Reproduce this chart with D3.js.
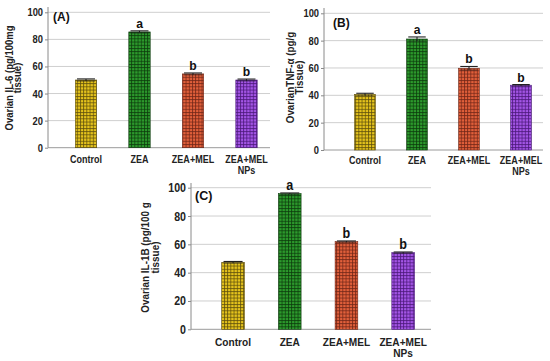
<!DOCTYPE html>
<html><head><meta charset="utf-8">
<script src="https://cdn.jsdelivr.net/npm/d3@7"></script>
<style>body{margin:0;background:#fff}svg{display:block}</style>
</head><body>
<svg id="chart" width="550" height="361"></svg>
<script>
const categories = ["Control", "ZEA", "ZEA+MEL", "ZEA+MEL NPs"];
const yTicks = [0, 20, 40, 60, 80, 100];
const il6Values = [50.0, 85.5, 54.5, 50.0];
const il6Errors = [0.8, 0.8, 0.7, 0.7];
const il6Letters = ["", "a", "b", "b"];
const tnfValues = [40.7, 81.2, 59.8, 47.4];
const tnfErrors = [0.8, 1.5, 1.3, 0.5];
const tnfLetters = ["", "a", "b", "b"];
const il1bValues = [47.3, 95.8, 61.9, 54.1];
const il1bErrors = [0.6, 0.5, 0.5, 0.5];
const il1bLetters = ["", "a", "b", "b"];
const panelLabels = ["(A)", "(B)", "(C)"];
const yTitles = [
  ["Ovarian IL-6 (pg/100mg", "tissue)"],
  ["OvarianTNF-\u03b1 (pg/g", "Tissue)"],
  ["Ovarian IL-1B (pg/100 g", "tissue)"]
];

const baseColors = ["#e6c41c", "#2c9a2c", "#e2603a", "#a455e6"];
const lineColors = ["#5e4f0c", "#0c3a0c", "#6e2616", "#4a1878"];

const svg = d3.select("#chart");
const defs = svg.append("defs");
baseColors.forEach((c, i) => {
  const p = defs.append("pattern").attr("id", "pat" + i)
    .attr("patternUnits", "userSpaceOnUse").attr("width", 3.2).attr("height", 3.2);
  p.append("rect").attr("width", 3.2).attr("height", 3.2).attr("fill", c);
  p.append("rect").attr("x", 0).attr("y", 0).attr("width", 0.9).attr("height", 3.2).attr("fill", lineColors[i]).attr("opacity", 0.85);
  p.append("rect").attr("x", 0).attr("y", 0).attr("width", 3.2).attr("height", 0.9).attr("fill", lineColors[i]).attr("opacity", 0.85);
});

const FONT = "'Liberation Sans', Arial, sans-serif";

const panels = [
  {values: il6Values, errors: il6Errors, letters: il6Letters, label: panelLabels[0], title: yTitles[0],
   axisX: 48, yTop: 12.3, yBot: 147.7, gridRight: 270, range: [59.25, 273.25], axisTop: 7,
   tickSize: 11, catSize: 11, catScale: 0.82, catBase: 163, catLine: 10.5, titleX: [9, 17], titleY: 78, titleSize: 10, titleScale: 0.95,
   labelPos: [53, 21], labelSize: 12, letterSize: 13.5},
  {values: tnfValues, errors: tnfErrors, letters: tnfLetters, label: panelLabels[1], title: yTitles[1],
   axisX: 324, yTop: 13.3, yBot: 150, gridRight: 543, range: [339, 547], axisTop: 8,
   tickSize: 11, catSize: 11, catScale: 0.82, catBase: 164, catLine: 10.5, titleX: [290.5, 299], titleY: 77.5, titleSize: 10, titleScale: 0.98,
   labelPos: [333, 27], labelSize: 12, letterSize: 13.5},
  {values: il1bValues, errors: il1bErrors, letters: il1bLetters, label: panelLabels[2], title: yTitles[2],
   axisX: 191, yTop: 187.7, yBot: 329.3, gridRight: 431, range: [204.7, 431.5], axisTop: 183,
   tickSize: 12.5, catSize: 11.5, catScale: 0.88, catBase: 345.5, catLine: 11.5, titleX: [145.5, 155], titleY: 257.5, titleSize: 11, titleScale: 0.9,
   labelPos: [195, 200], labelSize: 12.5, letterSize: 14}
];

panels.forEach((P, pi) => {
  const g = svg.append("g");
  const x = d3.scaleBand().domain(categories).range(P.range).paddingInner(0.6).paddingOuter(0.3);
  const y = d3.scaleLinear().domain([0, 100]).range([P.yBot, P.yTop]);

  // gridlines
  g.append("g").selectAll("line").data(yTicks).join("line")
    .attr("x1", P.axisX).attr("x2", P.gridRight)
    .attr("y1", d => y(d)).attr("y2", d => y(d))
    .attr("stroke", d => d === 0 ? "#9a9a9a" : "#cfcfcf").attr("stroke-width", 1);

  // y axis via d3
  const yAxis = d3.axisLeft(y).tickValues(yTicks).tickSize(3).tickPadding(2);
  const ag = g.append("g").attr("transform", `translate(${P.axisX},0)`).call(yAxis);
  ag.select(".domain").remove();
  ag.selectAll(".tick line").attr("stroke", "#888");
  ag.selectAll(".tick text").attr("font-family", FONT).attr("font-weight", "bold")
    .attr("font-size", P.tickSize).attr("fill", "#222")
    .attr("transform", function() { const xx = +d3.select(this).attr("x"); return `translate(${xx},0) scale(0.85,1) translate(${-xx},0)`; });
  g.append("line").attr("x1", P.axisX).attr("x2", P.axisX).attr("y1", P.axisTop).attr("y2", P.yBot)
    .attr("stroke", "#8a8a8a").attr("stroke-width", 1);

  // bars
  g.append("g").selectAll("rect").data(P.values).join("rect")
    .attr("x", (d, i) => x(categories[i]))
    .attr("y", d => y(d))
    .attr("width", x.bandwidth())
    .attr("height", d => y(0) - y(d))
    .attr("fill", (d, i) => `url(#pat${i})`)
    .attr("stroke", (d, i) => lineColors[i]).attr("stroke-width", 0.6);

  // error bars
  const eg = g.append("g").attr("stroke", "#222").attr("stroke-width", 1.1);
  P.values.forEach((v, i) => {
    const cx = x(categories[i]) + x.bandwidth() / 2;
    const e = P.errors[i];
    const hw = x.bandwidth() * 0.42;
    eg.append("line").attr("x1", cx).attr("x2", cx).attr("y1", y(v - e)).attr("y2", y(v + e));
    eg.append("line").attr("x1", cx - hw).attr("x2", cx + hw).attr("y1", y(v + e)).attr("y2", y(v + e));
    eg.append("line").attr("x1", cx - hw).attr("x2", cx + hw).attr("y1", y(v - e)).attr("y2", y(v - e)).attr("stroke-opacity", 0.5);
    if (P.letters[i]) {
      g.append("text").attr("transform", `translate(${cx},${y(v + e) - 3}) scale(0.9,1)`)
        .attr("text-anchor", "middle").attr("font-family", FONT).attr("font-weight", "bold")
        .attr("font-size", P.letterSize).attr("fill", "#111").text(P.letters[i]);
    }
  });

  // category labels
  categories.forEach((c, i) => {
    const cx = x(c) + x.bandwidth() / 2;
    const parts = c === "ZEA+MEL NPs" ? ["ZEA+MEL", "NPs"] : [c];
    parts.forEach((t, li) => {
      g.append("text").attr("transform", `translate(${cx},${P.catBase + li * P.catLine}) scale(${P.catScale},1)`)
        .attr("text-anchor", "middle").attr("font-family", FONT).attr("font-weight", "bold")
        .attr("font-size", P.catSize).attr("fill", "#222").text(t);
    });
  });

  // y title
  P.title.forEach((t, li) => {
    g.append("text").attr("transform", `translate(${P.titleX[li] + P.titleSize * 0.36},${P.titleY}) rotate(-90) scale(${P.titleScale},1)`)
      .attr("text-anchor", "middle").attr("font-family", FONT).attr("font-weight", "bold")
      .attr("font-size", P.titleSize).attr("fill", "#222").text(t);
  });

  // panel label
  g.append("text").attr("x", P.labelPos[0]).attr("y", P.labelPos[1])
    .attr("font-family", FONT).attr("font-weight", "bold").attr("font-size", P.labelSize)
    .attr("fill", "#111").text(P.label);
});
</script>
</body></html>
